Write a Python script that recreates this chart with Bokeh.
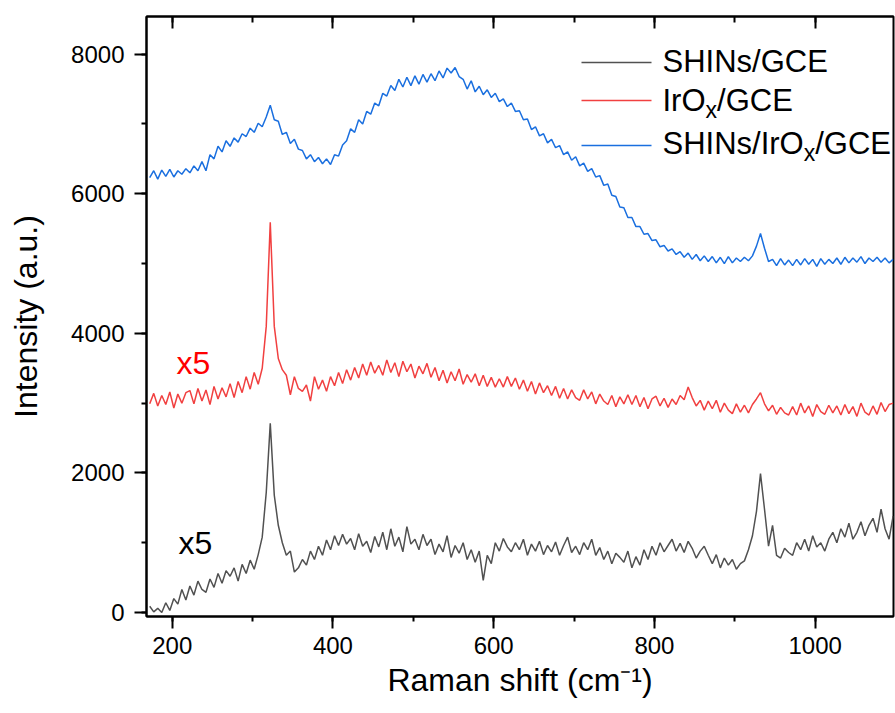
from bokeh.plotting import figure
from bokeh.models import Range1d, SingleIntervalTicker, LinearAxis, Label, CustomJSTickFormatter
from bokeh.embed import file_html
from bokeh.resources import INLINE

# ---------------- data ----------------
raman_shift = list(range(172, 1098, 5))  # cm-1 sampling, 172 ... 1097

shins_gce = [
    90, 10, 60, 0, 140, 30, 200, 120, 330, 180,
    380, 250, 450, 330, 290, 480, 360, 560, 420, 600,
    520, 640, 450, 690, 560, 750, 620, 830, 1080, 1720,
    2710, 1680, 1250, 1000, 820, 880, 580, 640, 760, 680,
    880, 760, 950, 820, 1040, 900, 1100, 960, 1120, 980,
    1060, 900, 1130, 950, 1020, 860, 1090, 940, 1150, 900,
    1200, 950, 1080, 870, 1230, 980, 1050, 900, 1120, 960,
    1050, 830, 980, 870, 1100, 790, 960, 850, 1000, 760,
    900, 720, 880, 460, 820, 700, 1000, 880, 1060, 940,
    870, 1000, 900, 1050, 820, 980, 880, 1020, 830, 960,
    870, 1010, 820, 960, 1080, 860, 950, 830, 1000, 900,
    1050, 820, 930, 760, 880, 700, 850, 790, 720, 880,
    640, 800, 680, 900, 760, 950, 820, 1000, 870, 960,
    1050, 880, 990, 860, 1020, 920, 780, 880, 950, 820,
    700, 830, 640, 780, 680, 760, 620, 700, 740, 900,
    1100, 1450, 1990, 1480, 950, 1250, 820, 780, 920, 860,
    820, 1000, 900, 1050, 880, 1100, 940, 1000, 880, 1050,
    1150, 1000, 1200, 1080, 1280, 1050, 1150, 1300, 1100, 1250,
    1350, 1150, 1480, 1200, 1050, 1380,
]

irox_gce = [
    2990, 3140, 2960, 3110, 2980, 3160, 2930, 3130, 3000, 3150,
    3180, 2990, 3210, 3030, 3190, 2980, 3240, 3060, 3220, 3090,
    3280, 3080, 3310, 3150, 3380, 3200, 3440, 3270, 3500, 4100,
    5590, 4100, 3640, 3480, 3400, 3120, 3380, 3210, 3170, 3260,
    3030, 3380, 3200, 3330, 3170, 3380, 3250, 3440, 3280, 3480,
    3330, 3510, 3360, 3560, 3400, 3590, 3430, 3540, 3400, 3620,
    3440, 3580, 3380, 3600, 3450, 3560, 3360, 3530, 3420, 3570,
    3370, 3510, 3320, 3470, 3290, 3450, 3320, 3490, 3270, 3410,
    3300, 3420, 3250, 3400, 3240, 3370, 3230, 3350, 3230, 3380,
    3240, 3360, 3200, 3330, 3170, 3310, 3130, 3290, 3150, 3250,
    3110, 3240, 3070, 3210, 3060, 3190, 3080, 3040, 3190, 3060,
    3160, 2990, 3130, 3030, 2980, 3110, 2950, 3090, 2990, 3120,
    2980, 3110, 2950, 3080, 2920, 3060, 3100, 2960, 3070, 2940,
    3060, 2980, 3110, 3050, 3230, 3080, 2960, 3040, 2900, 3030,
    2920, 3040, 2870, 3000, 2900, 2850, 2990, 2870, 2970, 2860,
    2980, 3060, 3150, 2990, 2890, 2970, 2840, 2940, 2860, 2830,
    2950, 2830, 3000, 2860, 2960, 2810, 2980, 2880, 2840, 2970,
    2860, 2960, 2830, 2980, 2850, 2950, 2810, 3000, 2870, 2830,
    2960, 2840, 3010, 2880, 2980, 3000,
]

shins_irox_gce = [
    6230, 6330, 6210, 6340, 6250, 6350, 6240, 6330, 6280, 6360,
    6300, 6400, 6330, 6460, 6330, 6560, 6500, 6680, 6600, 6760,
    6680, 6800, 6740, 6860, 6820, 6940, 6880, 7010, 6960, 7100,
    7270, 7060, 7040, 6850, 6880, 6720, 6780, 6640, 6620, 6500,
    6560, 6460, 6520, 6430, 6500, 6420, 6560, 6540, 6700, 6760,
    6930, 6880, 7060, 7000, 7180, 7140, 7300, 7260, 7440, 7400,
    7550, 7480, 7640, 7530, 7670, 7550, 7690, 7570, 7710, 7600,
    7720, 7620, 7760, 7660, 7800, 7730, 7810, 7680, 7640, 7500,
    7620, 7460, 7540, 7420, 7490, 7380, 7440, 7320, 7360, 7250,
    7300, 7180, 7190, 7060, 7070, 6920, 6960, 6830, 6860, 6730,
    6780, 6660, 6690, 6560, 6600, 6480, 6530, 6400, 6440, 6320,
    6360, 6240, 6260, 6120, 6140, 5980, 5960, 5810, 5800, 5660,
    5660, 5530, 5530, 5420, 5430, 5330, 5340, 5240, 5260, 5180,
    5210, 5130, 5170, 5090, 5150, 5060, 5130, 5040, 5110, 5030,
    5100, 5010, 5090, 5000, 5100, 5010, 5080, 5030, 5090, 5040,
    5110, 5250, 5430, 5220, 5030, 5060, 4970, 5070, 4980, 5050,
    4970, 5060, 4980, 5070, 4990, 5060, 4960, 5070, 4990, 5060,
    5000, 5080, 4990, 5090, 5010, 5080, 5020, 5100, 5000, 5080,
    5030, 5090, 5020, 5080, 5010, 5060,
]

series_colors = ["#515151", "#F14040", "#1A6FDF"]

# ---------------- layout ----------------
FONT = "Liberation Sans"
FL, FT, FW, FH = 146, 16, 747, 600     # frame left/top/width/height in pixels
X0, X1 = 168, 1097.5
Y0, Y1 = -57, 8540

def dx(px):
    return X0 + (px - FL) * (X1 - X0) / FW

def dy(py):
    return Y1 - (py - FT) * (Y1 - Y0) / FH

ARIAL = {"S": 667, "H": 722, "I": 278, "N": 722, "s": 500, "/": 278, "G": 778,
         "C": 722, "E": 667, "r": 333, "O": 778, "x": 500}

def tw(s, size):
    return sum(ARIAL.get(ch, 556) for ch in s) / 1000.0 * size

p = figure(width=895, height=713, x_range=Range1d(X0, X1), y_range=Range1d(Y0, Y1),
           output_backend="svg", toolbar_location=None,
           min_border_left=FL, min_border_right=895 - FL - FW,
           min_border_top=FT, min_border_bottom=713 - FT - FH,
           x_axis_type=None, y_axis_type=None)
p.grid.visible = False
p.outline_line_color = "black"
p.outline_line_width = 2
p.background_fill_color = "white"
p.border_fill_color = "white"

def style_axis(ax):
    ax.axis_line_width = 2
    ax.axis_line_color = "black"
    ax.major_tick_line_width = 2
    ax.minor_tick_line_width = 2
    ax.major_tick_line_color = "black"
    ax.minor_tick_line_color = "black"
    ax.major_label_text_font = FONT
    ax.major_label_text_font_size = "24px"
    ax.major_label_text_color = "black"
    ax.axis_label_text_font = FONT
    ax.axis_label_text_font_size = "32px"
    ax.axis_label_text_font_style = "normal"
    ax.axis_label_text_color = "black"

xaxis = LinearAxis(ticker=SingleIntervalTicker(interval=200, num_minor_ticks=2))
style_axis(xaxis)
xaxis.major_tick_out = 12
xaxis.major_tick_in = 0
xaxis.minor_tick_out = 5
xaxis.minor_tick_in = 0
xaxis.major_label_standoff = 8
xaxis.axis_label = "Raman shift (cm\u207b\u00b9)"
xaxis.axis_label_standoff = 5
p.add_layout(xaxis, "below")

yaxis = LinearAxis(ticker=SingleIntervalTicker(interval=2000, num_minor_ticks=2))
style_axis(yaxis)
yaxis.major_tick_out = 12
yaxis.major_tick_in = 0
yaxis.minor_tick_out = 5
yaxis.minor_tick_in = 0
yaxis.major_label_standoff = 10
yaxis.axis_label = "Intensity (a.u.)"
yaxis.axis_label_standoff = 24
p.add_layout(yaxis, "left")

topaxis = LinearAxis(ticker=SingleIntervalTicker(interval=200, num_minor_ticks=2),
                     formatter=CustomJSTickFormatter(code="return ''"))
style_axis(topaxis)
topaxis.major_label_text_font_size = "1px"
topaxis.major_label_standoff = 0
topaxis.major_tick_out = 0
topaxis.major_tick_in = 12
topaxis.minor_tick_out = 0
topaxis.minor_tick_in = 6
p.add_layout(topaxis, "above")

# ---------------- spectra ----------------
for ys, col in zip([shins_gce, irox_gce, shins_irox_gce], series_colors):
    p.line(raman_shift, ys, line_color=col, line_width=1.5)

# ---------------- texts (y = vertical centre of capitals) ----------------
def put(text, px, py, size, color="black"):
    p.add_layout(Label(x=dx(px), y=dy(py), text=text, text_font=FONT,
                       text_font_size=f"{size}px", text_color=color,
                       text_baseline="middle", text_align="left"))

# legend
LEG_SIZE, SUB_SIZE = 31, 23
legend_rows = [
    (0, 62, 61, [("SHINs/GCE", False)]),
    (1, 100, 100, [("IrO", False), ("x", True), ("/GCE", False)]),
    (2, 145, 143, [("SHINs/IrO", False), ("x", True), ("/GCE", False)]),
]
for idx, ly, mid, pieces in legend_rows:
    p.segment(x0=[dx(581)], y0=[dy(ly)], x1=[dx(651)], y1=[dy(ly)],
              line_color=series_colors[idx], line_width=1.5)
    cx = 662
    for txt, sub in pieces:
        size = SUB_SIZE if sub else LEG_SIZE
        put(txt, cx, mid + (9 if sub else 0), size)
        cx += tw(txt, size)

# "x5" scale annotations
put("x5", 176, 362, 32, "#FF0000")
put("x5", 178, 542, 32, "black")

open("out.html", "w").write(file_html(p, INLINE))
